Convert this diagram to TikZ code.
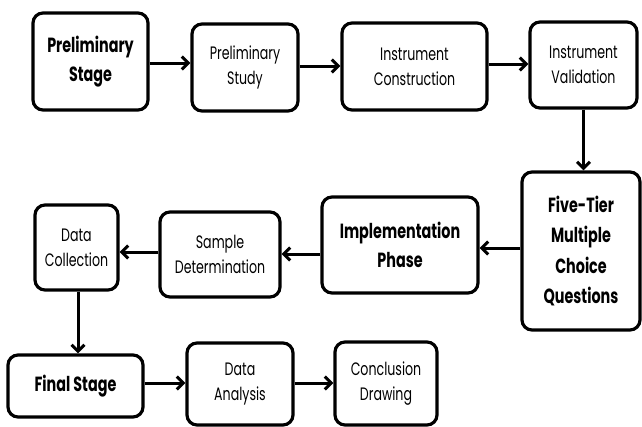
\documentclass[tikz,border=0pt]{standalone}
\usepackage{fontspec}
\setmainfont{Poppins}[FakeStretch=0.7]
\usetikzlibrary{arrows.meta}

\begin{document}
\begin{tikzpicture}[
          x=1pt,y=-1pt,
          box/.style={
              draw,
              line width=3.2pt,
              rounded corners=10pt,
              align=center,
              inner sep=2pt,
              font=\fontsize{18}{25}\selectfont
            },
          stagebox/.style={
              box,
              font=\fontsize{20.5}{28.5}\selectfont\bfseries
            },
          flow/.style={
              line width=3pt,
              -{Straight Barb[length=6.5pt,width=13pt,line width=3pt]}
            }
        ]
        \useasboundingbox (0,0) rectangle (642,426);

        % first row
        \node[stagebox,minimum width=115pt,minimum height=97pt] (pstage) at (90.5,61.5) {Preliminary\\Stage};
        \node[box,minimum width=106pt,minimum height=87pt] (pstudy) at (245,67.5) {Preliminary\\Study};
        \node[box,minimum width=145pt,minimum height=87pt] (iconstr) at (414.5,66.5) {Instrument\\Construction};
        \node[box,minimum width=107pt,minimum height=86pt] (ivalid) at (583.5,65) {Instrument\\Validation};

        % second row
        \node[stagebox,minimum width=118pt,minimum height=158pt,font=\fontsize{20.5}{30.5}\selectfont\bfseries] (fivetier) at (581,251) {Five-Tier\\Multiple\\Choice\\Questions};
        \node[stagebox,minimum width=156pt,minimum height=96pt] (impl) at (400,245) {Implementation\\Phase};
        \node[box,minimum width=120pt,minimum height=85pt] (sample) at (220,254.5) {Sample\\Determination};
        \node[box,minimum width=83pt,minimum height=85pt] (dcoll) at (76.5,247.5) {Data\\Collection};

        % third row
        \node[stagebox,minimum width=135pt,minimum height=62pt] (fstage) at (75.5,386) {Final Stage};
        \node[box,minimum width=106pt,minimum height=82pt] (danal) at (240,384) {Data\\Analysis};
        \node[box,minimum width=102pt,minimum height=83pt] (concl) at (386,383.5) {Conclusion\\Drawing};

        % connectors
        \draw[flow] (pstage.east |- 0,63) -- (pstudy.west |- 0,63);
        \draw[flow] (pstudy.east |- 0,66) -- (iconstr.west |- 0,66);
        \draw[flow] (iconstr.east |- 0,64) -- (ivalid.west |- 0,64);
        \draw[flow] (ivalid.south) -- (ivalid.south |- fivetier.north);
        \draw[flow] (fivetier.west |- 0,248) -- (impl.east |- 0,248);
        \draw[flow] (impl.west |- 0,254) -- (sample.east |- 0,254);
        \draw[flow] (sample.west |- 0,252) -- (dcoll.east |- 0,252);
        \draw[flow] (dcoll.south -| 78,0) -- (fstage.north -| 78,0);
        \draw[flow] (fstage.east |- 0,383) -- (danal.west |- 0,383);
        \draw[flow] (danal.east |- 0,383) -- (concl.west |- 0,383);

      \end{tikzpicture}
\end{document}
